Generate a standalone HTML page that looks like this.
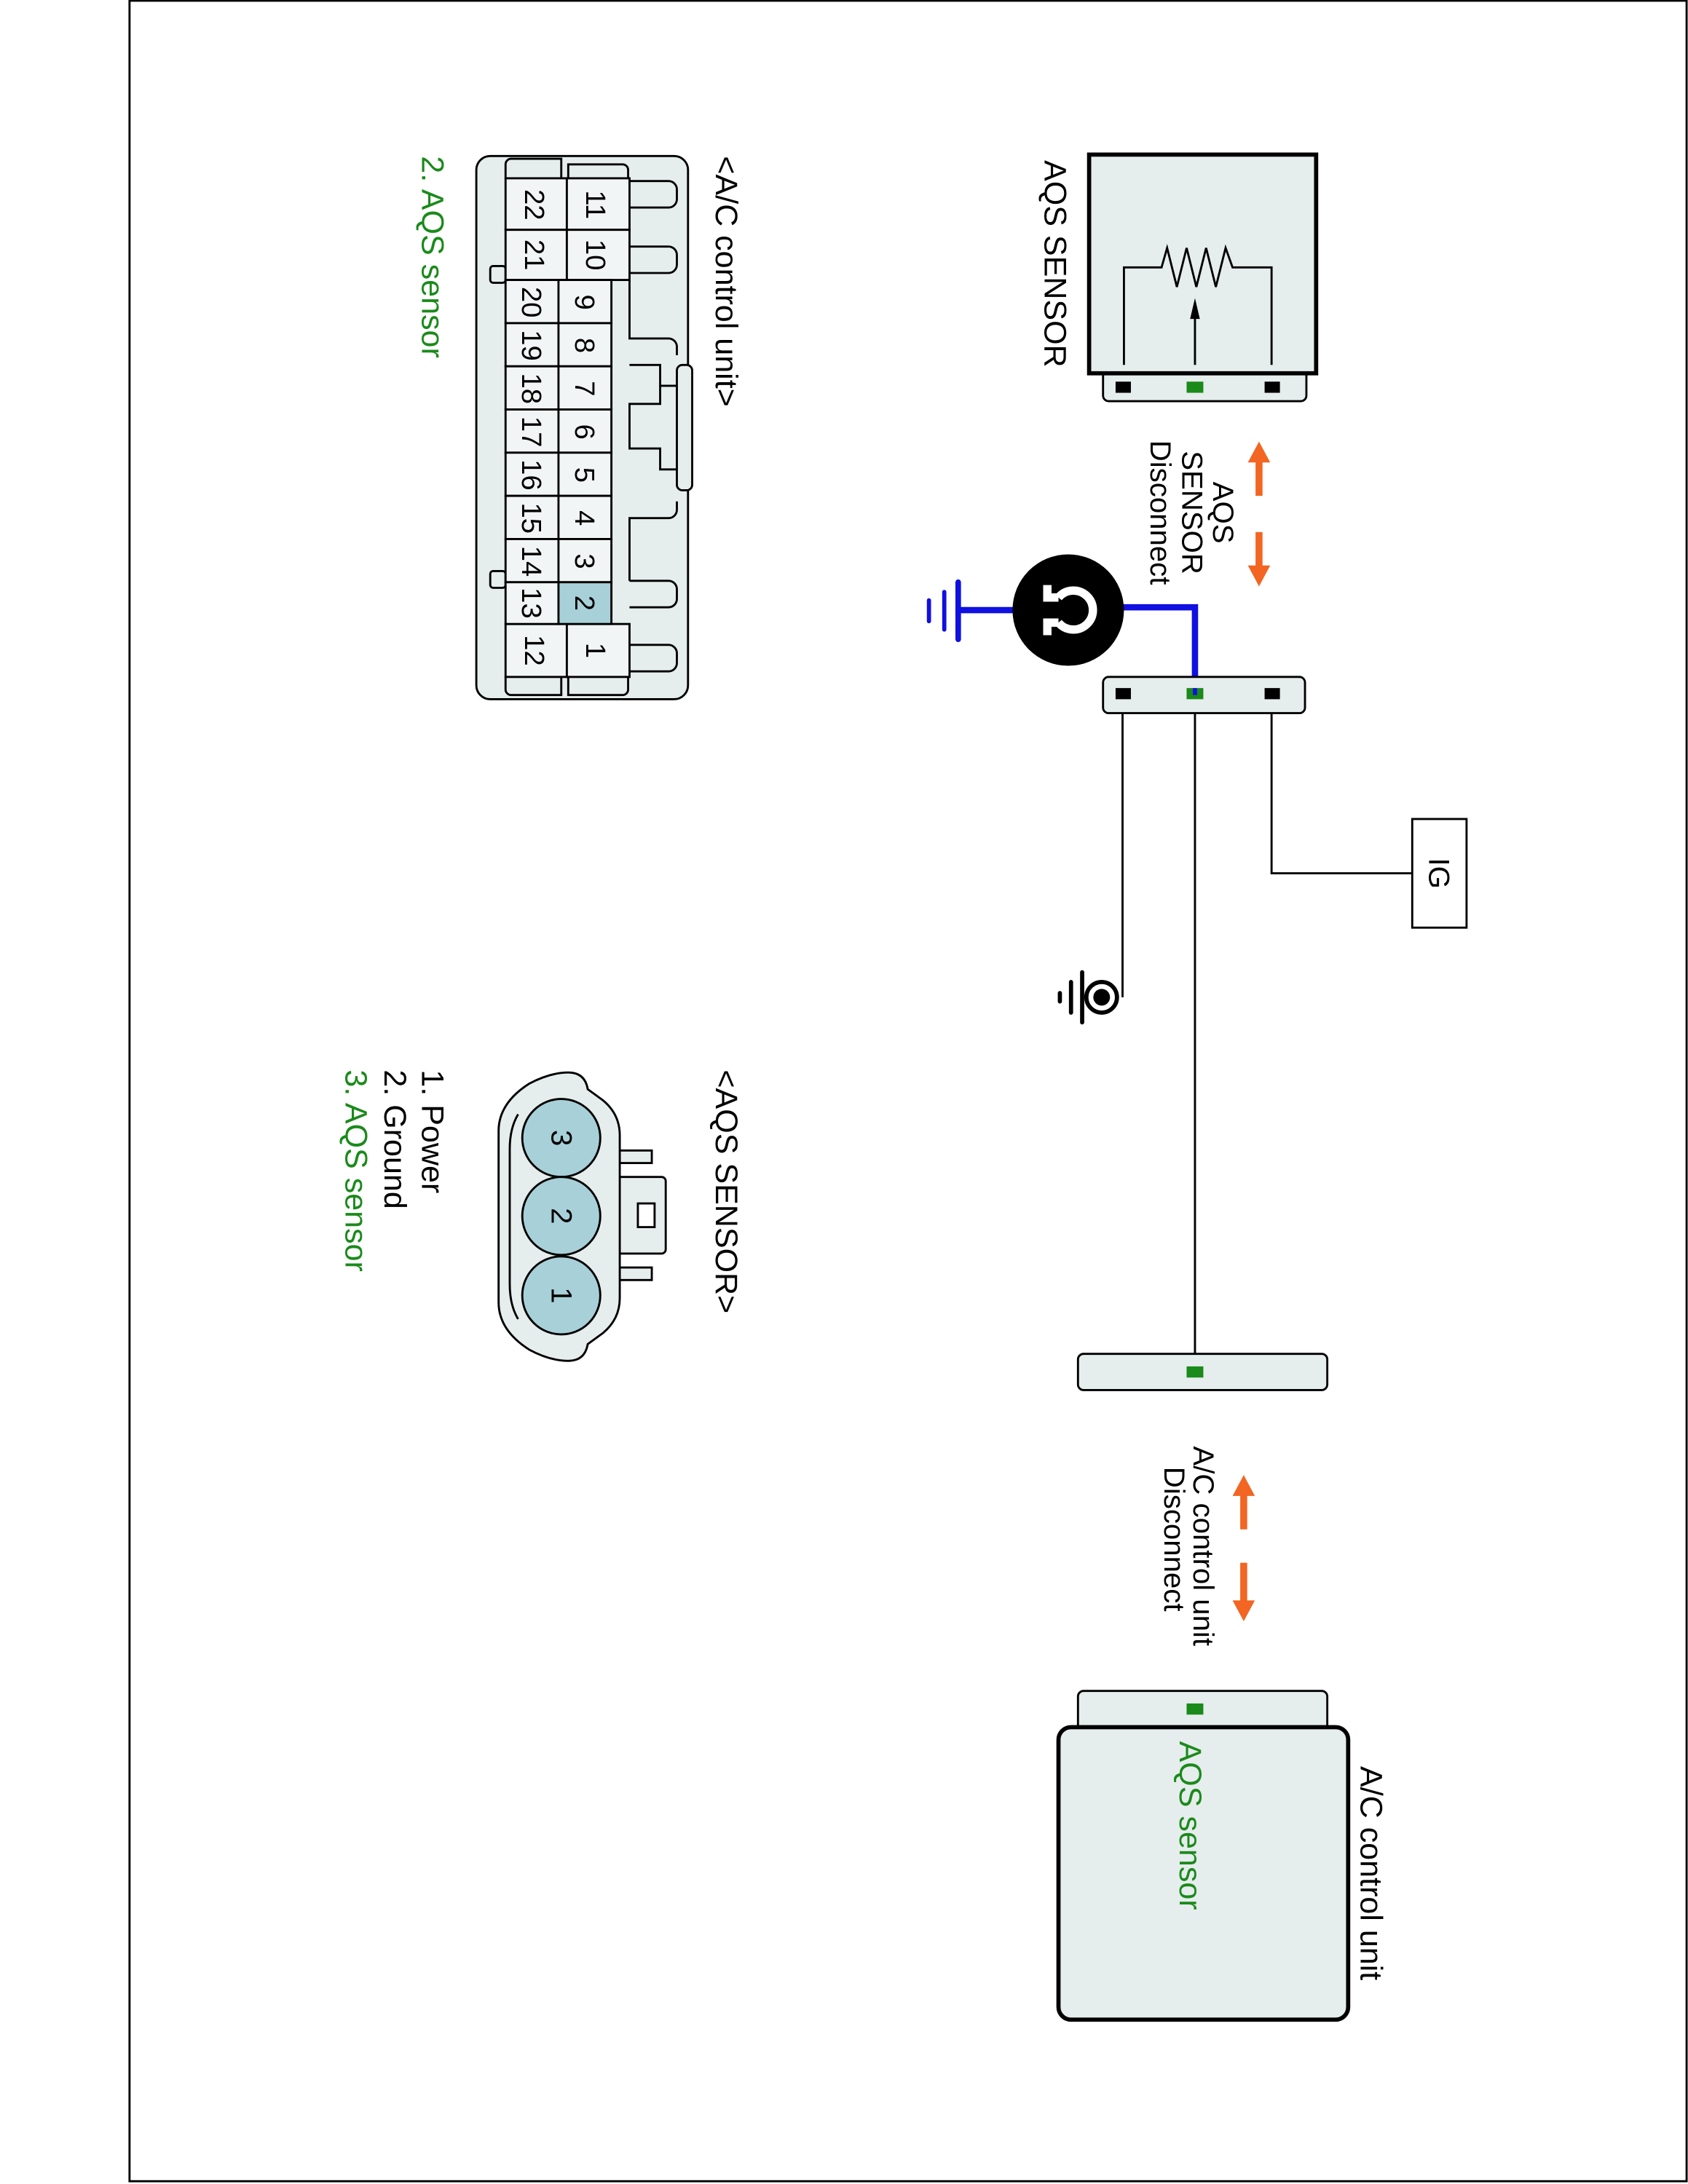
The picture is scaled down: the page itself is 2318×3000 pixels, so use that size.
<!DOCTYPE html>
<html><head><meta charset="utf-8"><style>html,body{margin:0;padding:0;background:#fff}svg{display:block}text{font-family:"Liberation Sans",sans-serif}</style></head>
<body>
<svg width="2318" height="3000" viewBox="0 0 1212 1568" preserveAspectRatio="none" xmlns="http://www.w3.org/2000/svg">
<rect x="93" y="0.5" width="1118" height="1565.5" fill="none" stroke="#000" stroke-width="1.5"/>

<!-- AQS SENSOR component -->
<rect x="792" y="262" width="146" height="26" rx="4" fill="#e6eded" stroke="#000" stroke-width="1.5"/>
<rect x="782" y="111" width="163" height="157" fill="#e6eded" stroke="#000" stroke-width="3"/>
<rect x="801" y="274" width="11" height="8" fill="#000"/>
<rect x="852" y="274" width="12" height="8" fill="#1a8a1a"/>
<rect x="908" y="274" width="11" height="8" fill="#000"/>
<polyline points="807,262 807,192 834,192 838,178 845,206 852,178 859,206 866,178 873,206 880,178 885,192 913,192 913,262" fill="none" stroke="#000" stroke-width="1.5"/>
<line x1="858" y1="262" x2="858" y2="226" stroke="#000" stroke-width="1.5"/>
<polygon points="858,214 854.5,229 861.5,229" fill="#000"/>
<text transform="translate(750,115) rotate(90)" font-size="22.5">AQS SENSOR</text>

<!-- disconnect arrows -->
<g fill="#f26522" stroke="none">
<rect x="901.5" y="330" width="5" height="26"/><polygon points="904,317 896,332 912,332"/>
<rect x="901.5" y="382" width="5" height="26"/><polygon points="904,421 896,406 912,406"/>
<rect x="890.5" y="1072" width="5" height="26"/><polygon points="893,1059 885,1074 901,1074"/>
<rect x="890.5" y="1122" width="5" height="28"/><polygon points="893,1164 885,1149 901,1149"/>
</g>
<g font-size="21" text-anchor="middle">
<text transform="translate(871,368) rotate(90)">AQS</text>
<text transform="translate(849,368) rotate(90)">SENSOR</text>
<text transform="translate(826,368) rotate(90)">Disconnect</text>
<text transform="translate(857,1110) rotate(90)">A/C control unit</text>
<text transform="translate(836,1105) rotate(90)">Disconnect</text>
</g>

<!-- blue ground -->
<polyline points="805,436 858,436 858,497" fill="none" stroke="#1010e0" stroke-width="4.5"/>
<line x1="730" y1="438" x2="688" y2="438" stroke="#1010e0" stroke-width="4.5"/>
<line x1="688" y1="418" x2="688" y2="459" stroke="#1010e0" stroke-width="4" stroke-linecap="round"/>
<line x1="678" y1="425" x2="678" y2="452" stroke="#1010e0" stroke-width="3" stroke-linecap="round"/>
<line x1="667" y1="431" x2="667" y2="446" stroke="#1010e0" stroke-width="3" stroke-linecap="round"/>
<circle cx="767" cy="438" r="40" fill="#000"/>
<path d="M760,429 A14,14 0 1 1 760,447 M760,429 L752,429 L752,420 M760,447 L752,447 L752,456" fill="none" stroke="#fff" stroke-width="6"/>

<!-- middle connector -->
<line x1="806" y1="512" x2="806" y2="716" stroke="#000" stroke-width="1.5"/>
<line x1="858" y1="512" x2="858" y2="985" stroke="#000" stroke-width="1.5"/>
<polyline points="913,512 913,627 1014,627" fill="none" stroke="#000" stroke-width="1.5"/>
<rect x="792" y="486" width="145" height="26" rx="4" fill="#e6eded" stroke="#000" stroke-width="1.5"/>
<rect x="801" y="494" width="11" height="8" fill="#000"/>
<rect x="852" y="494" width="12" height="8" fill="#1a8a1a"/>
<line x1="858" y1="494" x2="858" y2="499" stroke="#1010e0" stroke-width="3"/>
<rect x="908" y="494" width="11" height="8" fill="#000"/>

<!-- IG -->
<rect x="1014" y="588" width="39" height="78" fill="#fff" stroke="#000" stroke-width="1.5"/>
<text transform="translate(1026,627) rotate(90)" font-size="21" text-anchor="middle">IG</text>

<!-- chassis ground -->
<circle cx="791" cy="716" r="11" fill="#fff" stroke="#000" stroke-width="3"/>
<circle cx="791" cy="716" r="6" fill="#000"/>
<line x1="777" y1="698" x2="777" y2="734" stroke="#000" stroke-width="3" stroke-linecap="round"/>
<line x1="769" y1="705" x2="769" y2="727" stroke="#000" stroke-width="3" stroke-linecap="round"/>
<line x1="761" y1="713" x2="761" y2="719" stroke="#000" stroke-width="3" stroke-linecap="round"/>

<!-- lower connector -->
<rect x="774" y="972" width="179" height="26" rx="4" fill="#e6eded" stroke="#000" stroke-width="1.5"/>
<rect x="852" y="981" width="12" height="8" fill="#1a8a1a"/>

<!-- A/C control unit -->
<rect x="774" y="1214" width="179" height="30" rx="4" fill="#e6eded" stroke="#000" stroke-width="1.5"/>
<rect x="852" y="1223" width="12" height="8" fill="#1a8a1a"/>
<rect x="760" y="1240" width="208" height="210" rx="9" fill="#e6eded" stroke="#000" stroke-width="3"/>
<text transform="translate(977,1268) rotate(90)" font-size="22.5">A/C control unit</text>
<text transform="translate(847,1250) rotate(90)" font-size="22.5" fill="#1a8a1a">AQS sensor</text>

<!-- A/C control unit connector drawing -->
<rect x="342" y="112" width="152" height="390" rx="10" fill="#e6eded" stroke="#000" stroke-width="1.5"/>
<g fill="#e6eded" stroke="#000" stroke-width="1.5">
<path d="M452,130 H480 A6,6 0 0 1 486,136 V143 A6,6 0 0 1 480,149 H452"/>
<path d="M452,177 H480 A6,6 0 0 1 486,183 V190 A6,6 0 0 1 480,196 H452"/>
<path d="M452,417 H480 A6,6 0 0 1 486,423 V430 A6,6 0 0 1 480,436 H452"/>
<path d="M452,463 H480 A6,6 0 0 1 486,469 V476 A6,6 0 0 1 480,482 H452"/>
<path d="M452,201 V243 H480 A6,6 0 0 1 486,249 V255"/>
<path d="M486,360 V366 A6,6 0 0 1 480,372 H452 V417"/>
<rect x="486" y="262" width="11" height="90" rx="4"/>
<polyline points="452,262 474,262 474,277 486,277" fill="none"/>
<polyline points="486,337 474,337 474,322 452,322 452,290 474,290 474,277" fill="none"/>
<rect x="352" y="191" width="11" height="12" rx="2"/>
<rect x="352" y="410" width="11" height="12" rx="2"/>
<path d="M363,128 V118 A4,4 0 0 1 367,114 H403 V128"/>
<path d="M408,128 V118 H447 A4,4 0 0 1 451,122 V128"/>
<path d="M363,486 V495 A4,4 0 0 0 367,499 H403 V486"/>
<path d="M408,486 V499 H447 A4,4 0 0 0 451,495 V486"/>
</g>
<g fill="#f2f5f5" stroke="#000" stroke-width="1.5">
<rect x="363" y="128" width="44" height="37"/>
<rect x="363" y="165" width="44" height="36"/>
<rect x="407" y="128" width="45" height="37"/>
<rect x="407" y="165" width="45" height="36"/>
<rect x="363" y="448" width="44" height="38"/>
<rect x="407" y="448" width="45" height="38"/>
<rect x="363" y="201" width="38" height="31"/><rect x="401" y="201" width="38" height="31"/>
<rect x="363" y="232" width="38" height="31"/><rect x="401" y="232" width="38" height="31"/>
<rect x="363" y="263" width="38" height="31"/><rect x="401" y="263" width="38" height="31"/>
<rect x="363" y="294" width="38" height="31"/><rect x="401" y="294" width="38" height="31"/>
<rect x="363" y="325" width="38" height="31"/><rect x="401" y="325" width="38" height="31"/>
<rect x="363" y="356" width="38" height="31"/><rect x="401" y="356" width="38" height="31"/>
<rect x="363" y="387" width="38" height="31"/><rect x="401" y="387" width="38" height="31"/>
<rect x="363" y="418" width="38" height="30"/><rect x="401" y="418" width="38" height="30" fill="#a8d0d8"/>
</g>
<g font-size="20" text-anchor="middle">
<text transform="translate(421,147) rotate(90)">11</text>
<text transform="translate(421,183) rotate(90)">10</text>
<text transform="translate(377,147) rotate(90)">22</text>
<text transform="translate(377,183) rotate(90)">21</text>
<text transform="translate(413,217) rotate(90)">9</text>
<text transform="translate(413,248) rotate(90)">8</text>
<text transform="translate(413,279) rotate(90)">7</text>
<text transform="translate(413,310) rotate(90)">6</text>
<text transform="translate(413,341) rotate(90)">5</text>
<text transform="translate(413,372) rotate(90)">4</text>
<text transform="translate(413,403) rotate(90)">3</text>
<text transform="translate(413,433) rotate(90)">2</text>
<text transform="translate(375,217) rotate(90)">20</text>
<text transform="translate(375,248) rotate(90)">19</text>
<text transform="translate(375,279) rotate(90)">18</text>
<text transform="translate(375,310) rotate(90)">17</text>
<text transform="translate(375,341) rotate(90)">16</text>
<text transform="translate(375,372) rotate(90)">15</text>
<text transform="translate(375,403) rotate(90)">14</text>
<text transform="translate(375,433) rotate(90)">13</text>
<text transform="translate(421,467) rotate(90)">1</text>
<text transform="translate(377,467) rotate(90)">12</text>
</g>
<text transform="translate(514,112) rotate(90)" font-size="22.5">&lt;A/C control unit&gt;</text>
<text transform="translate(303,112) rotate(90)" font-size="22.5" fill="#1a8a1a">2. AQS sensor</text>

<!-- AQS SENSOR connector drawing -->
<g fill="#e6eded" stroke="#000" stroke-width="1.5">
<rect x="433" y="826" width="35" height="9"/>
<rect x="433" y="910" width="35" height="9"/>
<rect x="433" y="845" width="45" height="55" rx="3"/>
<rect x="458" y="864" width="12" height="17" fill="#fff"/>
<path d="M380,778 Q395,770 408,770 Q420,770 422,782 L433,790 Q445,800 445,815 V932 Q445,947 433,957 L422,965 Q420,977 408,977 Q395,977 380,969 Q358,955 358,935 V812 Q358,792 380,778 Z"/>
<path d="M372,800 Q366,810 366,825 V922 Q366,937 372,947" fill="none"/>
</g>
<g fill="#a8d0d8" stroke="#000" stroke-width="1.5">
<circle cx="403" cy="817" r="28"/>
<circle cx="403" cy="873" r="28"/>
<circle cx="403" cy="930" r="28"/>
</g>
<g font-size="21" text-anchor="middle">
<text transform="translate(396,817) rotate(90)">3</text>
<text transform="translate(396,873) rotate(90)">2</text>
<text transform="translate(396,930) rotate(90)">1</text>
</g>
<text transform="translate(514,768) rotate(90)" font-size="22.5">&lt;AQS SENSOR&gt;</text>
<text transform="translate(303,768) rotate(90)" font-size="22.5">1. Power</text>
<text transform="translate(276,768) rotate(90)" font-size="22.5">2. Ground</text>
<text transform="translate(248,768) rotate(90)" font-size="22.5" fill="#1a8a1a">3. AQS sensor</text>
</svg>
</body></html>
